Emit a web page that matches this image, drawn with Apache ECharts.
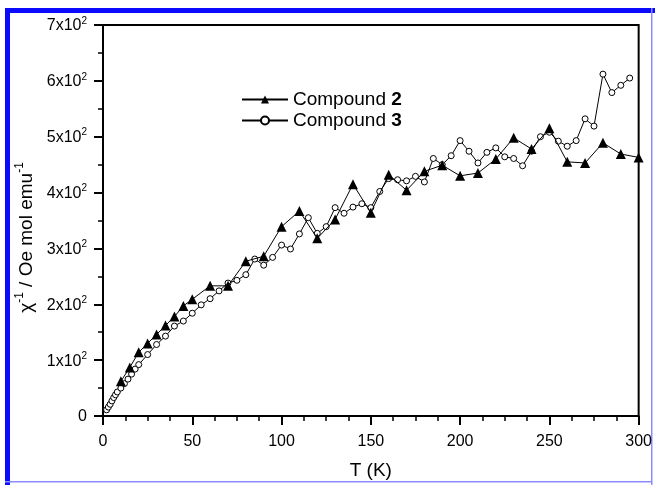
<!DOCTYPE html>
<html>
<head>
<meta charset="utf-8">
<script src="https://cdn.jsdelivr.net/npm/echarts@6/dist/echarts.min.js"></script>
<style>
html,body{margin:0;padding:0;background:#fff;}
#chart{width:655px;height:485px;}
</style>
</head>
<body>
<div id="chart"></div>
<script>
// Compound 2 (filled triangles)
const tempC2 = [10,15,20,25,30,35,40,45,50,60,70,80,90,100,110,120,130,140,150,160,170,180,190,200,210,220,230,240,250,260,270,280,290,300];
const chiC2  = [62,87,114,130,146,162,178,197,209,233,233,277,286,339,367,318,352,415,364,432,404,438,449,430,435,460,498,478,515,455,453,489,469,463];
// Compound 3 (open circles)
const tempC3 = [2,3,4,5,6,7,8,10,12,14,16,18,20,25,30,35,40,45,50,55,60,65,70,75,80,85,90,95,100,105,110,115,120,125,130,135,140,145,150,155,160,165,170,175,180,185,190,195,200,205,210,215,220,225,230,235,240,245,250,255,260,265,270,275,280,285,290,295];
const chiC3  = [11,16,21,27,33,38,43,50,58,66,75,84,92,110,128,143,161,170,184,199,210,224,238,243,253,281,270,284,306,299,326,355,327,339,373,363,374,380,373,402,425,423,421,429,419,461,450,466,493,474,453,472,480,464,461,448,474,500,508,492,483,493,532,519,612,579,592,605];
// tick labels
const xTicks = [0,50,100,150,200,250,300];
const yTickMantissa = ['0','1','2','3','4','5','6','7'];
const seriesNames = ['Compound 2','Compound 3'];
const seriesNums = ['2','3'];

const c2 = tempC2.map((t,i)=>[t,chiC2[i]]);
const c3 = tempC3.map((t,i)=>[t,chiC3[i]]);

const chart = echarts.init(document.getElementById('chart'), null, {renderer:'canvas'});
const FONT = 'Liberation Sans, Arial, sans-serif';
chart.setOption({
  animation:false,
  backgroundColor:'#ffffff',
  graphic:[
    {type:'rect', shape:{x:5,y:8,width:650,height:5}, style:{fill:'#0a0aff'}, z:-1},
    {type:'rect', shape:{x:5,y:8,width:5,height:477}, style:{fill:'#0a0aff'}, z:-1},
    {type:'rect', shape:{x:651,y:8,width:1.5,height:477}, style:{fill:'#8c8cff'}, z:-1},
    {type:'rect', shape:{x:5,y:481,width:647,height:1.5}, style:{fill:'#8c8cff'}, z:-1}
  ],
  grid:{left:103,right:13,top:25,bottom:64,show:true,borderColor:'#000',borderWidth:2,backgroundColor:'transparent'},
  legend:{
    orient:'vertical', left:236, top:85, itemWidth:46, itemHeight:10, itemGap:2,
    data:seriesNames,
    formatter:function(n){const i=seriesNames.indexOf(n);return '{t|Compound }{b|'+seriesNums[i]+'}';},
    textStyle:{rich:{t:{fontFamily:FONT,fontSize:19,color:'#000'},b:{fontFamily:FONT,fontSize:19,fontWeight:'bold',color:'#000'}}}
  },
  xAxis:{
    type:'value', min:0, max:300, interval:50,
    name:'T (K)', nameLocation:'middle', nameGap:45,
    nameTextStyle:{fontFamily:FONT,fontSize:19,color:'#000'},
    axisLine:{show:true,onZero:false,lineStyle:{color:'#000',width:2}},
    axisTick:{show:true,inside:false,length:9,lineStyle:{color:'#000',width:2}},
    minorTick:{show:true,splitNumber:4,length:5,lineStyle:{color:'#000',width:1.5}},
    splitLine:{show:false},
    axisLabel:{margin:18,fontFamily:FONT,fontSize:16,color:'#000',
      formatter:function(v){return xTicks.indexOf(v)>=0?String(v):'';}}
  },
  yAxis:{
    type:'value', min:0, max:700, interval:100,
    name:'{c|χ}{s|-1}{c| / Oe mol emu}{s|-1}', nameLocation:'middle', nameGap:67, nameRotate:90,
    nameTextStyle:{padding:[0,34,0,0],rich:{
      c:{fontFamily:FONT,fontSize:19,color:'#000',lineHeight:22,verticalAlign:'bottom'},
      s:{fontFamily:FONT,fontSize:12,color:'#000',lineHeight:22,verticalAlign:'top'}}},
    axisLine:{show:true,onZero:false,lineStyle:{color:'#000',width:2}},
    axisTick:{show:true,inside:false,length:9,lineStyle:{color:'#000',width:2}},
    minorTick:{show:true,splitNumber:2,length:5,lineStyle:{color:'#000',width:1.5}},
    splitLine:{show:false},
    axisLabel:{margin:16,color:'#000',
      formatter:function(v){const m=yTickMantissa[Math.round(v/100)];return m==='0'?'{a|0}':'{a|'+m+'x10}{s|2}';},
      rich:{a:{fontFamily:FONT,fontSize:16,color:'#000',lineHeight:18,verticalAlign:'bottom'},
            s:{fontFamily:FONT,fontSize:10,color:'#000',lineHeight:18,verticalAlign:'top'}}}
  },
  series:[
    {name:seriesNames[0], type:'line', data:c2, symbol:'triangle', symbolSize:10,
     lineStyle:{color:'#000',width:1}, itemStyle:{color:'#000',borderColor:'#000',borderWidth:0}, z:3},
    {name:seriesNames[1], type:'line', data:c3, symbol:'circle', symbolSize:6,
     lineStyle:{color:'#000',width:1}, itemStyle:{color:'#fff',borderColor:'#000',borderWidth:1}, z:2}
  ]
});
</script>
</body>
</html>
